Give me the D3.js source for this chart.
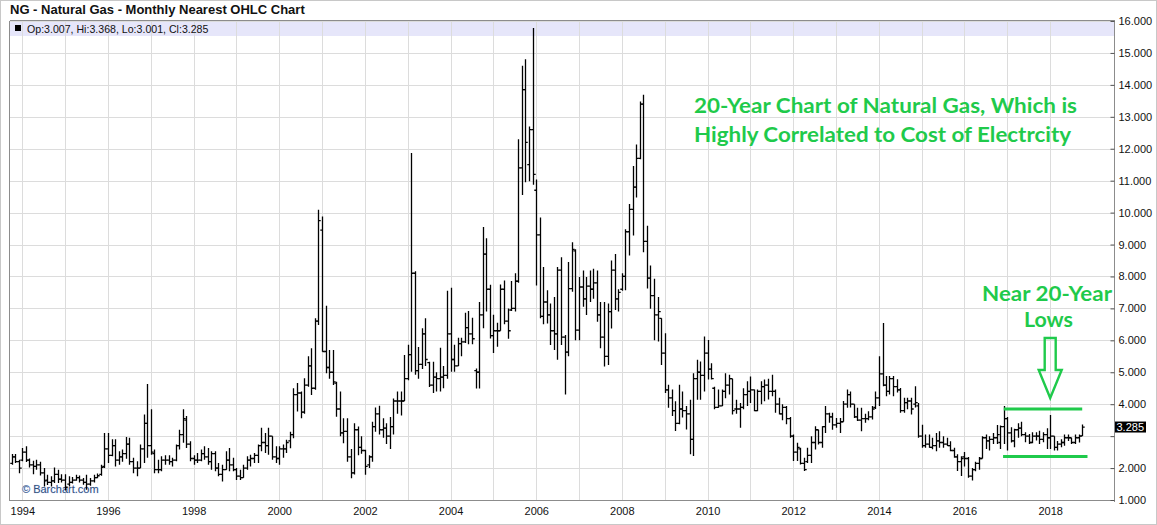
<!DOCTYPE html>
<html><head><meta charset="utf-8">
<script src="https://cdn.jsdelivr.net/npm/d3@7"></script>
<style>body{margin:0;background:#fff}svg{display:block}</style>
</head><body><svg id="c" width="1157" height="525"></svg>
<script>
// ---- DATA (monthly nearest futures, Oct 1993 .. Oct 2018) ----
const firstMonth = [1993, 9]; // Oct 1993 (JS month index)
const open = [
2.15,2.35,2.20,
2.25,2.50,2.25,2.10,2.05,2.10,1.85,1.62,1.55,1.60,1.80,1.65,
1.62,1.50,1.55,1.62,1.70,1.62,1.55,1.50,1.60,1.70,1.80,2.05,
2.60,2.40,2.70,2.25,2.35,2.45,2.75,2.20,2.00,2.00,2.60,3.40,
2.70,2.45,1.95,1.95,2.25,2.25,2.20,2.25,2.70,3.05,3.50,2.75,
2.30,2.25,2.25,2.45,2.35,2.20,2.45,2.00,1.80,1.95,2.25,2.10,
1.95,1.75,1.70,2.00,2.25,2.30,2.40,2.70,2.80,2.70,3.00,2.35,
2.30,2.60,2.60,2.85,3.05,4.30,4.35,3.75,4.60,5.20,4.50,6.60,
9.45,5.65,5.15,5.00,4.66,3.85,3.10,3.15,2.35,1.85,3.20,2.65,
2.55,2.10,2.35,3.30,3.70,3.20,3.25,3.00,3.30,4.10,4.10,4.10,
4.80,5.55,8.10,5.05,5.25,6.20,5.30,4.60,4.85,4.80,4.85,4.90,
6.20,5.40,5.20,5.90,5.95,6.40,6.20,5.05,5.00,6.80,8.70,7.60,
6.15,6.30,6.30,7.60,6.60,6.95,7.00,7.85,11.40,13.85,11.50,12.60,
10.70,9.30,6.75,7.20,6.80,6.30,6.20,8.20,6.10,5.63,7.62,8.80,
6.32,7.67,7.30,7.70,7.60,7.80,6.80,6.10,5.50,6.90,8.20,7.30,
7.60,8.00,9.40,10.10,10.80,11.70,13.40,9.10,7.95,7.40,6.80,6.69,
5.60,4.45,4.20,3.80,3.40,3.85,3.80,3.70,2.90,4.80,5.00,4.90,
5.60,5.10,4.50,3.90,3.95,4.40,4.60,4.80,3.85,3.85,3.90,4.30,
4.40,4.45,3.80,4.40,4.55,4.60,4.40,4.40,4.00,3.70,3.90,3.55,
3.00,2.50,2.60,2.15,2.20,2.40,2.80,3.20,2.80,3.30,3.70,3.60,
3.35,3.40,3.45,4.00,4.30,4.00,3.60,3.50,3.55,3.55,3.60,3.90,
4.20,4.95,4.60,4.40,4.80,4.55,4.45,3.80,4.05,4.10,4.00,3.95,
3.00,2.70,2.75,2.65,2.70,2.85,2.80,2.75,2.70,2.55,2.35,2.20,
2.35,2.30,1.75,1.95,2.15,2.30,2.95,2.85,2.90,2.95,2.80,3.30,
3.55,3.10,2.85,3.20,3.25,3.05,3.00,2.80,3.00,3.00,2.90,3.05,
2.95,3.00,2.65,2.75,2.80,2.95,2.95,2.80,2.95,3.007];
const high = [
2.44,2.44,2.26,
2.63,2.68,2.30,2.23,2.26,2.20,2.00,1.79,1.74,2.02,1.95,1.81,
1.81,1.74,1.72,1.79,1.77,1.69,1.79,1.69,1.79,1.83,2.10,3.10,
3.10,2.90,2.90,2.53,2.58,2.97,2.95,2.32,2.21,2.74,3.68,4.63,
3.84,2.58,2.26,2.37,2.40,2.40,2.32,2.74,3.20,3.84,3.63,2.84,
2.40,2.47,2.58,2.68,2.63,2.53,2.53,2.16,2.10,2.53,2.63,2.32,
2.00,1.95,2.10,2.37,2.42,2.47,2.74,3.26,3.10,3.26,3.00,2.68,
2.68,2.74,2.89,3.14,4.50,4.66,4.40,4.81,5.50,5.75,6.69,10.09,
9.88,7.08,5.70,5.70,4.70,4.40,3.56,3.56,2.60,3.40,3.30,3.00,
2.57,2.40,3.45,3.90,3.95,3.56,3.40,3.60,4.18,4.40,4.40,5.54,
5.86,11.87,8.16,5.79,6.38,6.69,5.33,5.33,5.00,5.77,5.20,7.55,
7.65,5.86,6.08,6.08,6.86,6.92,6.71,5.12,7.20,9.55,9.20,7.74,
6.80,6.55,7.75,7.87,7.00,7.86,8.10,12.30,14.60,14.80,12.70,15.78,
11.04,9.85,8.30,7.57,7.15,7.36,8.30,8.60,6.17,8.45,9.07,8.85,
7.98,8.19,7.98,8.19,8.24,8.19,7.20,7.20,7.15,8.50,8.70,7.60,
8.10,9.48,10.27,11.46,12.13,13.48,13.69,9.59,8.34,7.93,7.36,6.69,
6.22,4.61,4.46,4.09,4.61,4.40,3.94,4.14,4.97,5.39,5.34,6.12,
6.01,5.28,4.55,4.46,4.46,4.97,4.92,4.80,4.14,4.04,4.50,4.72,
4.87,4.46,4.46,4.72,4.77,4.80,4.92,4.46,4.20,4.00,3.94,3.60,
3.05,2.79,2.64,2.32,2.64,3.00,3.31,3.20,3.31,3.94,3.73,3.73,
3.57,3.57,4.10,4.46,4.40,4.00,3.89,3.89,3.70,3.78,3.94,4.40,
5.50,6.54,4.88,4.88,4.88,4.78,4.51,4.20,4.20,4.20,4.56,4.04,
3.36,3.05,3.05,2.95,3.10,3.15,3.00,2.95,2.84,2.64,2.43,2.37,
2.50,2.35,2.00,2.20,2.35,3.00,3.05,3.00,3.10,3.35,3.33,3.94,
3.60,3.28,3.23,3.40,3.45,3.12,3.07,3.12,3.12,3.17,3.12,3.25,
3.66,3.00,2.85,2.90,3.05,3.05,2.95,3.05,3.05,3.368];
const low = [
2.10,2.16,1.84,
2.21,2.19,2.02,1.81,1.95,1.77,1.42,1.47,1.42,1.53,1.53,1.55,
1.30,1.42,1.52,1.60,1.55,1.48,1.32,1.45,1.55,1.68,1.76,2.00,
2.16,2.37,2.05,2.10,2.20,2.29,2.10,1.84,1.74,2.00,2.16,2.32,
2.42,1.84,1.84,1.90,2.10,2.10,2.05,2.21,2.58,2.79,2.63,2.21,
2.10,2.16,2.21,2.26,2.10,1.95,1.90,1.74,1.58,1.95,1.90,1.90,
1.63,1.63,1.70,1.95,2.05,2.16,2.16,2.53,2.47,2.42,2.26,2.16,
2.10,2.32,2.47,2.62,2.93,3.77,3.56,3.70,4.55,4.29,4.45,6.48,
5.64,4.97,4.80,4.60,3.61,3.00,2.78,2.20,1.68,1.80,2.40,2.45,
1.79,2.00,2.20,3.14,3.05,2.95,2.75,2.60,3.05,3.70,3.65,4.10,
4.75,5.02,4.92,4.80,5.10,5.20,4.54,4.35,4.40,4.40,4.50,4.80,
5.02,5.02,5.20,5.50,5.92,5.88,5.88,4.49,4.49,6.38,6.90,6.06,
5.60,5.80,6.30,6.50,6.05,6.92,6.90,7.80,10.55,10.95,10.98,10.87,
7.72,6.69,6.50,6.53,5.85,5.70,5.39,5.85,4.30,5.50,7.52,6.00,
6.00,7.05,6.79,7.20,7.30,6.58,5.75,5.18,5.23,6.37,6.95,6.90,
7.55,7.57,8.66,9.28,10.47,11.67,8.76,7.62,6.99,6.00,5.96,5.23,
4.35,3.89,3.63,3.16,3.37,3.58,3.21,2.43,2.38,4.14,4.14,4.40,
4.77,4.77,3.84,3.89,3.94,4.19,4.30,3.68,3.70,3.26,3.84,3.94,
4.04,3.78,3.78,4.00,4.09,4.15,4.25,3.73,3.68,3.50,3.37,2.95,
2.22,2.22,2.11,1.91,2.16,2.16,2.58,2.74,2.64,3.10,3.42,3.20,
3.26,3.10,3.45,3.89,3.90,3.57,3.47,3.15,3.42,3.50,3.52,3.85,
3.94,4.56,4.25,4.30,4.25,4.37,3.73,3.73,3.84,3.68,3.90,2.95,
2.64,2.64,2.64,2.59,2.53,2.64,2.64,2.69,2.53,2.32,1.91,1.75,
2.05,1.70,1.61,1.90,1.95,2.30,2.60,2.55,2.75,2.75,2.60,2.75,
2.55,2.80,2.65,2.95,3.00,2.81,2.75,2.78,2.86,2.75,2.81,2.60,
2.60,2.55,2.55,2.65,2.70,2.85,2.75,2.75,2.80,3.001];
const close = [
2.35,2.20,2.00,
2.50,2.25,2.10,2.05,2.10,1.85,1.60,1.55,1.60,1.80,1.65,1.62,
1.40,1.55,1.62,1.70,1.62,1.55,1.50,1.60,1.70,1.76,2.02,2.60,
2.40,2.70,2.25,2.35,2.45,2.75,2.20,2.00,2.00,2.60,3.40,2.70,
2.50,1.95,1.95,2.25,2.25,2.20,2.25,2.70,3.05,3.55,2.75,2.30,
2.25,2.25,2.45,2.35,2.20,2.45,2.00,1.80,1.95,2.25,2.10,1.95,
1.75,1.70,2.00,2.25,2.30,2.40,2.70,2.80,2.70,3.00,2.35,2.30,
2.60,2.60,2.80,3.05,4.30,4.35,3.75,4.60,5.20,4.50,6.60,9.75,
5.65,5.15,5.00,4.70,3.85,3.10,3.15,2.35,1.85,3.20,2.65,2.55,
2.05,2.35,3.30,3.70,3.20,3.25,3.00,3.30,4.10,4.10,4.10,4.80,
5.55,8.10,5.05,5.25,6.20,5.40,4.60,4.85,4.80,4.85,4.90,6.20,
5.40,5.20,5.90,5.95,6.40,6.20,6.05,5.00,6.80,8.70,7.60,6.15,
6.30,6.30,7.60,6.60,6.30,7.00,7.85,11.40,13.85,12.20,12.60,11.20,
9.30,6.75,7.20,6.80,6.30,6.20,8.20,6.10,5.63,7.62,8.85,6.32,
7.67,7.30,7.70,7.60,7.80,6.80,6.10,5.50,6.90,8.20,7.30,7.50,
8.00,9.40,10.10,10.80,11.70,13.40,9.10,7.95,7.40,6.80,6.90,5.60,
4.45,4.20,3.80,3.40,3.85,3.80,3.70,2.90,4.80,5.00,4.90,5.60,
5.10,4.80,3.90,3.95,4.40,4.60,4.80,3.80,3.85,3.90,4.30,4.40,
4.45,3.80,4.40,4.55,4.60,4.40,4.40,4.00,3.70,3.90,3.55,3.00,
2.50,2.65,2.15,1.95,2.40,2.80,3.20,2.80,3.30,3.70,3.60,3.35,
3.40,3.45,4.00,4.30,4.00,3.60,3.50,3.55,3.55,3.60,3.85,4.20,
4.95,4.60,4.40,4.80,4.55,4.45,3.80,4.05,4.10,3.85,4.05,3.00,
2.70,2.75,2.65,2.70,2.85,2.80,2.75,2.70,2.55,2.35,2.20,2.30,
2.30,1.75,1.95,2.15,2.30,2.95,2.85,2.90,2.95,3.05,3.30,3.55,
3.10,2.85,3.20,3.25,3.05,3.00,2.80,3.00,3.00,2.90,3.05,2.95,
3.00,2.65,2.75,2.80,2.95,2.95,2.80,2.95,3.00,3.285];
const yTickValues = [1,2,3,4,5,6,7,8,9,10,11,12,13,14,15,16];
const xLabelYears = [1994,1996,1998,2000,2002,2004,2006,2008,2010,2012,2014,2016,2018];
const gridYears = d3.range(1994, 2019);
const titleText = "NG - Natural Gas - Monthly Nearest OHLC Chart";
const legendText = "Op:3.007, Hi:3.368, Lo:3.001, Cl:3.285";
const lastClose = 3.285;
const noteLines = ["20-Year Chart of Natural Gas, Which is", "Highly Correlated to Cost of Electrcity"];
const lowsLines = ["Near 20-Year", "Lows"];
const rangeTop = 3.85, rangeBottom = 2.36;

// ---- LAYOUT ----
const svg = d3.select("#c");
const L = 9.5, R = 1114.5, T = 20.5, B = 500.5;
const GREEN = "#1fca4b";
const dates = open.map((_, i) => new Date(firstMonth[0], firstMonth[1] + i, 1));
const x = d3.scaleTime().domain([new Date(1994,0,1), new Date(2018,0,1)]).range([22.3, 1050.2]);
const y = d3.scaleLinear().domain([1, 16]).range([500, 21]);

svg.append("rect").attr("x",0.5).attr("y",0.5).attr("width",1156).attr("height",524)
  .attr("fill","#fff").attr("stroke","#c8c8c8");

// title
svg.append("text").attr("x",10).attr("y",14).text(titleText)
  .attr("font-family","Liberation Sans, Arial, sans-serif").attr("font-weight","bold")
  .attr("font-size",13).attr("fill","#111");

// legend band
svg.append("rect").attr("x",L).attr("y",T).attr("width",R-L).attr("height",15.5).attr("fill","#e6e6fa");

// grid
const grid = svg.append("g").attr("stroke","#dcdcdc").attr("stroke-width",1).attr("shape-rendering","crispEdges");
grid.selectAll("line.h").data(yTickValues).join("line")
  .attr("x1",L).attr("x2",R).attr("y1",d=>Math.round(y(d))+0.5).attr("y2",d=>Math.round(y(d))+0.5);
grid.selectAll("line.v").data(gridYears).join("line")
  .attr("x1",d=>Math.round(x(new Date(d,0,1)))+0.5).attr("x2",d=>Math.round(x(new Date(d,0,1)))+0.5)
  .attr("y1",T).attr("y2",B);

// legend text
svg.append("rect").attr("x",15).attr("y",25).attr("width",6).attr("height",6).attr("fill","#000");
svg.append("text").attr("x",27).attr("y",32.5).text(legendText)
  .attr("font-family","Liberation Sans, Arial, sans-serif").attr("font-size",10.6).attr("fill","#111");

// frame
const frame = svg.append("g").attr("stroke","#8c8c8c").attr("stroke-width",1).attr("shape-rendering","crispEdges");
frame.append("line").attr("x1",L).attr("x2",R).attr("y1",T).attr("y2",T);
frame.append("line").attr("x1",L).attr("x2",L).attr("y1",T).attr("y2",B);
frame.append("line").attr("x1",L).attr("x2",R).attr("y1",B).attr("y2",B).attr("stroke-width",1.5);
frame.append("line").attr("x1",R).attr("x2",R).attr("y1",T).attr("y2",B+1);

// right y axis
const yAxis = d3.axisRight(y).tickValues(yTickValues).tickSize(0).tickPadding(0)
  .tickFormat(d => Math.abs(d - lastClose) < 0.45 ? "" : d3.format(".3f")(d));
const ya = svg.append("g").attr("transform",`translate(${R},0)`).call(yAxis);
ya.select(".domain").remove();
ya.selectAll("text").attr("x",4).attr("font-family","Liberation Sans, Arial, sans-serif").attr("font-size",11).attr("fill","#111");
ya.selectAll(".tick").append("line").attr("x1",-4).attr("x2",0).attr("stroke","#555");

// bottom x axis labels
const xAxis = d3.axisBottom(x).tickValues(xLabelYears.map(v=>new Date(v,0,1))).tickSize(0).tickPadding(0)
  .tickFormat(d3.timeFormat("%Y"));
const xa = svg.append("g").attr("transform",`translate(0,${B})`).call(xAxis);
xa.select(".domain").remove();
xa.selectAll("text").attr("y",7).attr("font-family","Liberation Sans, Arial, sans-serif").attr("font-size",11).attr("fill","#111");

// watermark
svg.append("text").attr("x",22).attr("y",493).text("© Barchart.com")
  .attr("font-family","Liberation Sans, Arial, sans-serif").attr("font-size",11)
  .attr("fill","#34507a").attr("stroke","#cfe0ff").attr("stroke-width",0.6).attr("paint-order","stroke");

// OHLC bars
const bars = svg.append("g").attr("stroke","#000").attr("stroke-width",1.3).attr("fill","none");
bars.selectAll("path").data(dates).join("path")
  .attr("d",(d,i)=>{
    const cx = Math.round(x(d)) + 0.5;
    return `M${cx},${y(high[i])}V${y(low[i])}M${cx-2.2},${y(open[i])}H${cx}M${cx},${y(close[i])}H${cx+2.2}`;
  });

// last value box
const ly = y(lastClose);
svg.append("rect").attr("x",R+0.5).attr("y",ly-5.5).attr("width",31).attr("height",11).attr("fill","#000");
svg.append("text").attr("x",R+2).attr("y",ly+4).text(d3.format(".3f")(lastClose))
  .attr("font-family","Liberation Sans, Arial, sans-serif").attr("font-size",11).attr("fill","#fff");

// annotations
const noteFont = "Lato, 'Open Sans', sans-serif";
const nt = svg.append("g").attr("fill",GREEN).attr("font-family",noteFont).attr("font-weight","bold").attr("font-size",21);
nt.append("text").attr("x",694).attr("y",113).text(noteLines[0]).attr("textLength",383).attr("lengthAdjust","spacingAndGlyphs");
nt.append("text").attr("x",694).attr("y",142).text(noteLines[1]).attr("textLength",377).attr("lengthAdjust","spacingAndGlyphs");
nt.append("text").attr("x",982).attr("y",300.5).text(lowsLines[0]).attr("textLength",130).attr("lengthAdjust","spacingAndGlyphs");
nt.append("text").attr("x",1024).attr("y",327).text(lowsLines[1]).attr("textLength",49).attr("lengthAdjust","spacingAndGlyphs");

// hollow arrow
const ax = x(new Date(2018,0,1));
const arrow = d3.path();
arrow.moveTo(ax-5.5, 338); arrow.lineTo(ax+5.5, 338); arrow.lineTo(ax+5.5, 370);
arrow.lineTo(ax+11.5, 370); arrow.lineTo(ax, 398); arrow.lineTo(ax-11.5, 370);
arrow.lineTo(ax-5.5, 370); arrow.closePath();
svg.append("path").attr("d",arrow.toString()).attr("fill","none").attr("stroke",GREEN).attr("stroke-width",2.4).attr("stroke-linejoin","miter");

// range lines
svg.append("line").attr("x1",x(new Date(2016,11,1))).attr("x2",x(new Date(2018,9,1)))
  .attr("y1",y(rangeTop)).attr("y2",y(rangeTop)).attr("stroke",GREEN).attr("stroke-width",3);
svg.append("line").attr("x1",x(new Date(2016,10,25))).attr("x2",x(new Date(2018,10,15)))
  .attr("y1",y(rangeBottom)).attr("y2",y(rangeBottom)).attr("stroke",GREEN).attr("stroke-width",3);
</script></body></html>
